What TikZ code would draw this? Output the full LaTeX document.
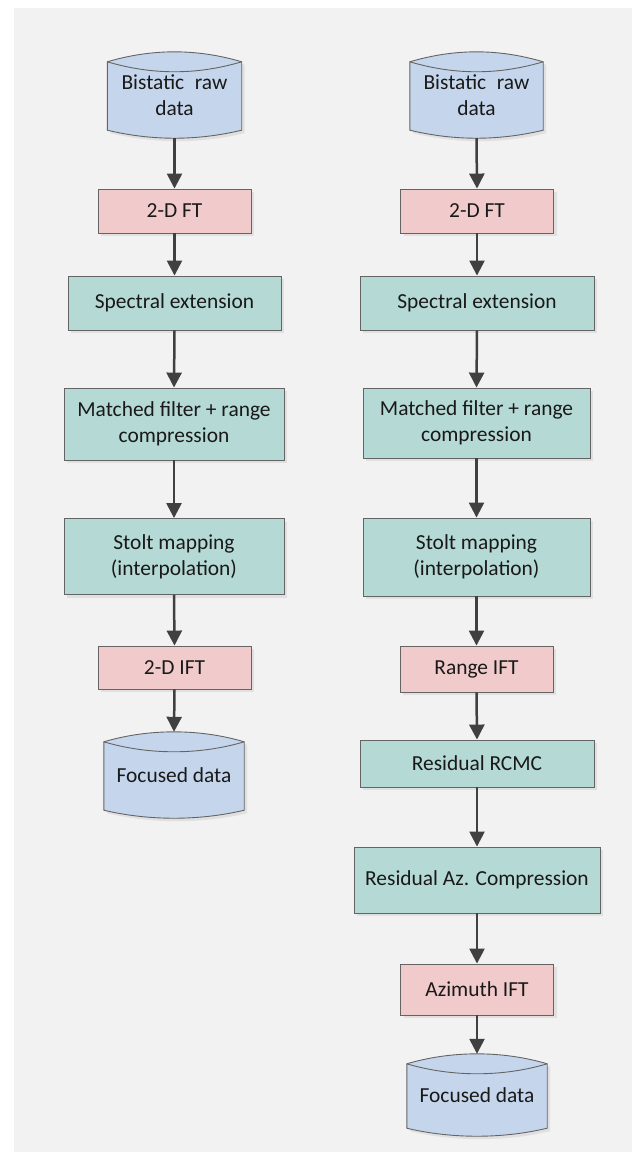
\documentclass[tikz,border=0pt]{standalone}
\usepackage{fontspec}
\setmainfont{Carlito}
\usetikzlibrary{arrows.meta,shadows,backgrounds}

\definecolor{panelgray}{RGB}{242,242,242}
\definecolor{storeblue}{RGB}{197,214,236}
\definecolor{ftpink}{RGB}{241,203,203}
\definecolor{procgreen}{RGB}{181,217,213}
\definecolor{edgegray}{RGB}{100,100,100}
\definecolor{arrowgray}{RGB}{64,64,64}

\tikzset{
  every node/.style={font=\fontsize{21.5}{26}\selectfont, text=black!90, align=center},
  boxshadow/.style={drop shadow={shadow xshift=3bp, shadow yshift=-3bp, fill=black!12, opacity=1}},
  box/.style={draw=edgegray, line width=0.9bp, inner sep=0pt, boxshadow},
  ftbox/.style={box, fill=ftpink, minimum width=153bp},
  procbox/.style={box, fill=procgreen},
  store/.style={inner sep=0pt, minimum height=86bp},
  flow/.style={draw=arrowgray, line width=2.5bp, -{Triangle[length=15bp,width=15bp]}},
}

% disk outline behind a store node
\newcommand{\storeshape}[1]{%
  \path[fill=storeblue, draw=edgegray, line width=0.9bp, boxshadow]
    ([yshift=-10bp]#1.north west) .. controls +(45,-13.3) and +(-45,-13.3) .. ([yshift=-10bp]#1.north east)
    -- ([yshift=8bp]#1.south east) .. controls +(-45,10.7) and +(45,10.7) .. ([yshift=8bp]#1.south west)
    -- cycle;
  \draw[edgegray, line width=0.9bp] ([yshift=-10bp]#1.north west) .. controls +(45,13.3) and +(-45,13.3) .. ([yshift=-10bp]#1.north east);
}

\begin{document}
\begin{tikzpicture}[x=1bp, y=-1bp]

\useasboundingbox (0,0) rectangle (634,1153);

% left chain
\node[store, minimum width=134bp] (rawL) at (174.5,95) {Bistatic\hspace{0.5em}raw\\data};
\node[ftbox, minimum height=44bp] (ftL) at (174.5,211) {2-D FT};
\node[procbox, minimum width=213bp, minimum height=54bp] (specL) at (174.5,303) {Spectral extension};
\node[procbox, minimum width=220bp, minimum height=72bp] (mfL) at (174,424) {Matched filter + range\\compression};
\node[procbox, minimum width=220bp, minimum height=76bp] (stoltL) at (174,556.5) {Stolt mapping\\(interpolation)};
\node[ftbox, minimum height=43bp] (iftL) at (174.5,667.5) {2-D IFT};
\node[store, minimum width=140bp] (focL) at (174,775) {Focused data};

% right chain
\node[store, minimum width=133bp] (rawR) at (476.5,95) {Bistatic\hspace{0.5em}raw\\data};
\node[ftbox, minimum height=44bp] (ftR) at (477,211) {2-D FT};
\node[procbox, minimum width=234bp, minimum height=54bp] (specR) at (477,303) {Spectral extension};
\node[procbox, minimum width=227bp, minimum height=70bp] (mfR) at (476.5,423) {Matched filter + range\\compression};
\node[procbox, minimum width=227bp, minimum height=78bp] (stoltR) at (476.5,557) {Stolt mapping\\(interpolation)};
\node[ftbox, minimum height=46bp] (rangeR) at (476.5,669) {Range IFT};
\node[procbox, minimum width=234bp, minimum height=47bp] (rcmcR) at (477,763.5) {Residual RCMC};
\node[procbox, minimum width=246bp, minimum height=66bp] (azR) at (477,880) {Residual Az. Compression};
\node[ftbox, minimum height=51bp] (aziftR) at (477,989.5) {Azimuth IFT};
\node[store, minimum width=140bp, minimum height=82bp] (focR) at (477,1095) {Focused data};

\begin{pgfonlayer}{background}
  \fill[white] (0,0) rectangle (634,1153);
  \fill[panelgray] (14,8) rectangle (632,1152);
  \storeshape{rawL}
  \storeshape{focL}
  \storeshape{rawR}
  \storeshape{focR}
\end{pgfonlayer}

\foreach \a/\b in {rawL/ftL, ftL/specL, specL/mfL, mfL/stoltL, stoltL/iftL, iftL/focL,
                   rawR/ftR, ftR/specR, specR/mfR, mfR/stoltR, stoltR/rangeR,
                   rangeR/rcmcR, rcmcR/azR, azR/aziftR, aziftR/focR}
  \draw[flow] (\a.south) -- (\b.north);

\end{tikzpicture}
\end{document}
